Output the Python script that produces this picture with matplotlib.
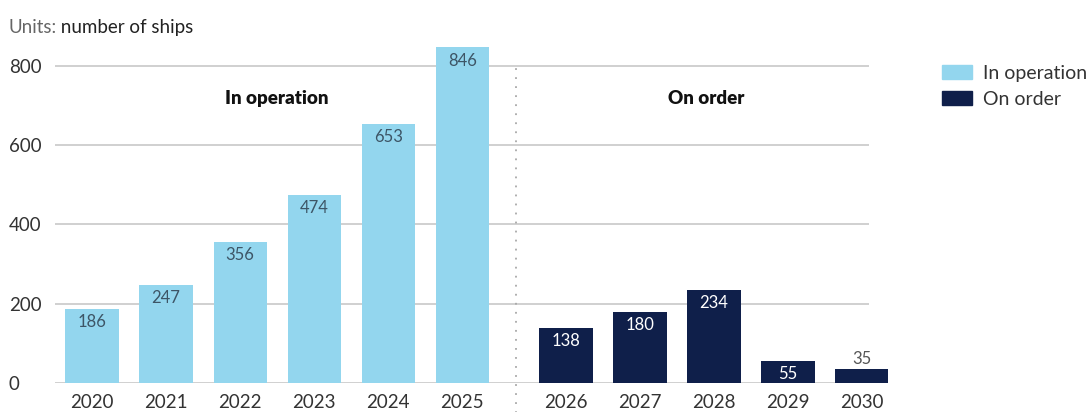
import matplotlib.pyplot as plt

years_operation = ["2020", "2021", "2022", "2023", "2024", "2025"]
ships_operation = [186, 247, 356, 474, 653, 846]
years_order = ["2026", "2027", "2028", "2029", "2030"]
ships_order = [138, 180, 234, 55, 35]
y_ticks = [0, 200, 400, 600, 800]

LIGHT = "#93D6EE"
NAVY = "#0F1F4A"
GRID = "#C4C4C4"
FONT = "Lato"

plt.rcParams["font.family"] = [FONT, "DejaVu Sans"]

fig = plt.figure(figsize=(10.88, 4.12), dpi=100)
ax = fig.add_axes([0.0506, 0.0704, 0.7656, 0.857])

x_op = list(range(len(years_operation)))
x_ord = [6.4 + i for i in range(len(years_order))]

ax.set_xlim(-0.5, 10.75)
ax.set_ylim(0, 890)

# gridlines stop short of the last bar
ax.hlines(y_ticks, -0.5, 10.49, color=GRID, lw=1.1, zorder=0)

bars_op = ax.bar(x_op, ships_operation, width=0.72, color=LIGHT, zorder=2)
bars_ord = ax.bar(x_ord, ships_order, width=0.72, color=NAVY, zorder=2)

for rect, v in zip(bars_op, ships_operation):
    ax.annotate(str(v), (rect.get_x() + rect.get_width() / 2, v),
                xytext=(0, -9.5), textcoords="offset points", ha="center",
                va="center", fontsize=12, color="#3D5566", zorder=3)
for rect, v in zip(bars_ord, ships_order):
    if v < 50:
        ax.annotate(str(v), (rect.get_x() + rect.get_width() / 2, v),
                    xytext=(0, 7), textcoords="offset points", ha="center",
                    va="center", fontsize=12, color="#555555", zorder=3)
    else:
        ax.annotate(str(v), (rect.get_x() + rect.get_width() / 2, v),
                    xytext=(0, -9.5), textcoords="offset points", ha="center",
                    va="center", fontsize=12, color="white", zorder=3)

# divider between the two groups
ax.axvline(5.72, ymin=-0.1, ymax=800 / 890, color="#A8A8A8", lw=1.3,
           ls=(0, (1, 4)), clip_on=False, zorder=1)

ax.text(2.5, 716, "In operation", ha="center", va="center",
        fontsize=13.5, fontweight="heavy", color="#111111")
ax.text(8.3, 716, "On order", ha="center", va="center",
        fontsize=13.5, fontweight="heavy", color="#111111")

ax.set_xticks(x_op + x_ord)
ax.set_xticklabels(years_operation + years_order)
ax.set_yticks(y_ticks)
ax.tick_params(axis="x", length=0, pad=8, labelsize=13.5, labelcolor="#333333")
ax.tick_params(axis="y", length=0, pad=5, labelsize=13.5, labelcolor="#333333")
for lbl in ax.get_yticklabels():
    lbl.set_horizontalalignment("left")
    lbl.set_x(-0.047)
for s in ax.spines.values():
    s.set_visible(False)

units = fig.text(0.0074, 0.92, "Units:", fontsize=13.5, color="#666666",
                 va="baseline")
fig.text(0, 0, " number of ships", fontsize=13.5, color="#222222",
         va="baseline")
fig.canvas.draw()
bb = units.get_window_extent().transformed(fig.transFigure.inverted())
fig.texts[-1].set_position((bb.x1, 0.92))

handles = [plt.Rectangle((0, 0), 1, 1, color=LIGHT),
           plt.Rectangle((0, 0), 1, 1, color=NAVY)]
fig.legend(handles, ["In operation", "On order"], loc="upper left",
           bbox_to_anchor=(0.853, 0.875), frameon=False, fontsize=14,
           handlelength=1.55, handleheight=0.72, handletextpad=0.55,
           labelspacing=0.45, labelcolor="#333333", borderpad=0.2)

fig.savefig("out.png", dpi=100)
